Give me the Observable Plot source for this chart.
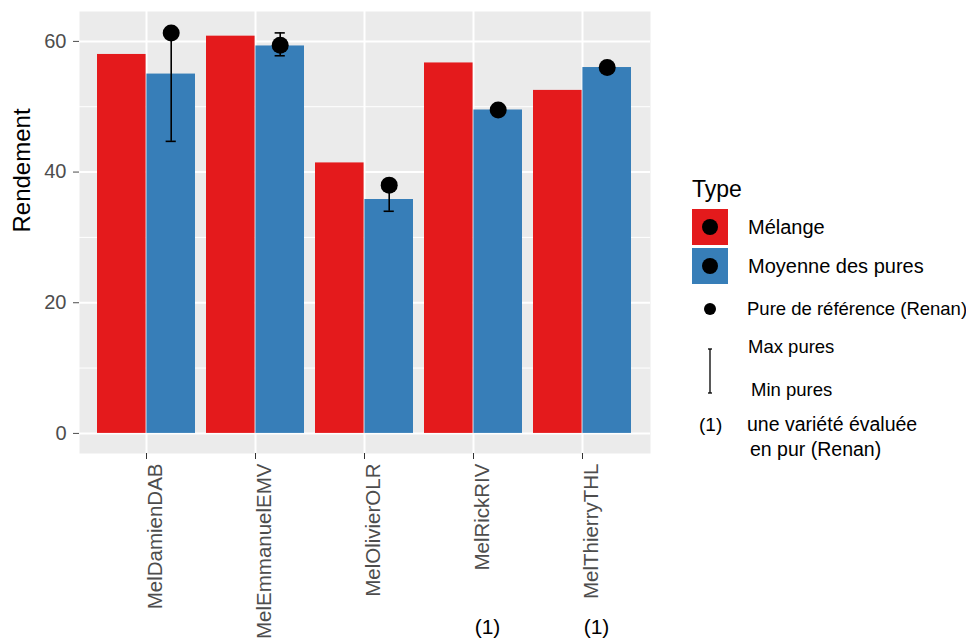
<!DOCTYPE html>
<html>
<head>
<meta charset="utf-8">
<script src="https://cdn.jsdelivr.net/npm/d3@7"></script>
<script src="https://cdn.jsdelivr.net/npm/@observablehq/plot@0.6"></script>
<style>
  html, body { margin: 0; padding: 0; background: white; }
  #chart { width: 966px; height: 643px; overflow: hidden; }
</style>
</head>
<body>
<div id="chart"></div>
<script>
// ---- data ----
const categories = ["MelDamienDAB", "MelEmmanuelEMV", "MelOlivierOLR", "MelRickRIV", "MelThierryTHL"];
const melange = [58.0, 60.8, 41.4, 56.7, 52.5];
const moyennePures = [55.0, 59.3, 35.8, 49.5, 56.0];
const pureReference = [61.3, 59.4, 38.0, 49.5, 56.0];
const minPures = [44.7, 57.8, 34.0, null, null];
const maxPures = [61.3, 61.3, 38.0, null, null];
const notes = ["", "", "", "(1)", "(1)"];
const yTicks = [0, 20, 40, 60];
const yMinorTicks = [10, 30, 50];
const typeLabels = ["Mélange", "Moyenne des pures"];
const typeColors = ["#E41A1C", "#377EB8"];
const legendTitle = "Type";
const refLabel = "Pure de référence (Renan)";
const maxLabel = "Max pures";
const minLabel = "Min pures";
const noteMark = "(1)";
const noteLines = ["une variété évaluée", "en pur (Renan)"];
const yLabel = "Rendement";

const rows = categories.map((c, i) => ({
  cat: c, melange: melange[i], moyenne: moyennePures[i], ref: pureReference[i],
  min: minPures[i], max: maxPures[i], note: notes[i]
}));
const errRows = rows.filter(d => d.min != null && d.max != null);
const noteRows = rows.filter(d => d.note);

// ---- layout ----
const W = 966, H = 643, mL = 79, mR = 316, mT = 11, mB = 190;
const step = (W - mL - mR) / (categories.length - 0.1 + 0.3);
const bw = step * 0.9;
const capHalf = 5.5;
const FONT = "'Liberation Sans', Arial, sans-serif";

const plot = Plot.plot({
  width: W, height: H,
  marginLeft: mL, marginRight: mR, marginTop: mT, marginBottom: mB,
  style: { fontFamily: FONT, background: "white", overflow: "visible" },
  x: { type: "band", domain: categories, paddingInner: 0.1, paddingOuter: 0.15, align: 0.5 },
  y: { domain: [-3.075, 64.575] },
  marks: [
    Plot.frame({ fill: "#EBEBEB", stroke: "none" }),
    Plot.gridY(yMinorTicks, { stroke: "white", strokeOpacity: 1, strokeWidth: 1 }),
    Plot.gridY(yTicks, { stroke: "white", strokeOpacity: 1, strokeWidth: 2 }),
    Plot.gridX(categories, { stroke: "white", strokeOpacity: 1, strokeWidth: 2 }),
    Plot.barY(rows, { x: "cat", y: "melange", fill: typeColors[0], insetRight: bw / 2 }),
    Plot.barY(rows, { x: "cat", y: "moyenne", fill: typeColors[1], insetLeft: bw / 2 }),
    Plot.ruleX(errRows, { x: "cat", y1: "min", y2: "max", dx: bw / 4, stroke: "black", strokeWidth: 1.6 }),
    Plot.tickY(errRows, { x: "cat", y: "min", insetLeft: 0.75 * bw - capHalf, insetRight: 0.25 * bw - capHalf, stroke: "black", strokeWidth: 1.6 }),
    Plot.tickY(errRows, { x: "cat", y: "max", insetLeft: 0.75 * bw - capHalf, insetRight: 0.25 * bw - capHalf, stroke: "black", strokeWidth: 1.6 }),
    Plot.dot(rows, { x: "cat", y: "ref", dx: bw / 4, r: 8.5, fill: "black", stroke: "none" }),
    Plot.axisY(yTicks, { tickSize: 6, tickPadding: 7, fontSize: 20, color: "#4D4D4D", label: null }),
    Plot.axisX({ tickSize: 6, tickFormat: () => "", color: "#333333", label: null }),
    Plot.axisX({ tickSize: 0, tickPadding: 10, tickRotate: -90, dx: 9, fontSize: 20.5, color: "#4D4D4D", label: null }),
    Plot.text([yLabel], { frameAnchor: "left", dx: -57, rotate: -90, fontSize: 24, fill: "black" }),
    Plot.text(noteRows, { x: "cat", text: "note", frameAnchor: "bottom", dy: 180, dx: 14, fontSize: 21, fill: "black" })
  ]
});

document.getElementById("chart").appendChild(plot);

// ---- legend (drawn into the same SVG) ----
const svg = d3.select(plot);
const lg = svg.append("g")
  .attr("font-family", FONT)
  .attr("fill", "black")
  .attr("text-anchor", "start");
lg.append("text").attr("x", 692).attr("y", 197).attr("font-size", 23).attr("text-anchor", "start").text(legendTitle);
typeLabels.forEach((lab, i) => {
  const y0 = 209 + i * 39;
  lg.append("rect").attr("x", 692).attr("y", y0).attr("width", 36).attr("height", 36).attr("fill", typeColors[i]);
  lg.append("circle").attr("cx", 710).attr("cy", y0 + 18).attr("r", 8).attr("fill", "black");
  lg.append("text").attr("x", 748).attr("y", y0 + 18).attr("dy", "0.35em").attr("font-size", 20).attr("text-anchor", "start").text(lab);
});
lg.append("circle").attr("cx", 710).attr("cy", 309).attr("r", 6).attr("fill", "black");
const addText = (x, y, size, t) =>
  lg.append("text").attr("x", x).attr("y", y).attr("dy", "0.35em")
    .attr("font-size", size).attr("text-anchor", "start").text(t);
addText(747, 309, 18.5, refLabel);
lg.append("line").attr("x1", 710).attr("x2", 710).attr("y1", 349).attr("y2", 393).attr("stroke", "black").attr("stroke-width", 1.3);
lg.append("line").attr("x1", 708).attr("x2", 712).attr("y1", 349).attr("y2", 349).attr("stroke", "black").attr("stroke-width", 1.3);
lg.append("line").attr("x1", 708).attr("x2", 712).attr("y1", 393).attr("y2", 393).attr("stroke", "black").attr("stroke-width", 1.3);
addText(748, 347, 18.5, maxLabel);
addText(751, 390, 18.5, minLabel);
addText(699, 424, 19, noteMark);
addText(747, 424, 19.5, noteLines[0]);
addText(750, 449, 19.5, noteLines[1]);
</script>
</body>
</html>
